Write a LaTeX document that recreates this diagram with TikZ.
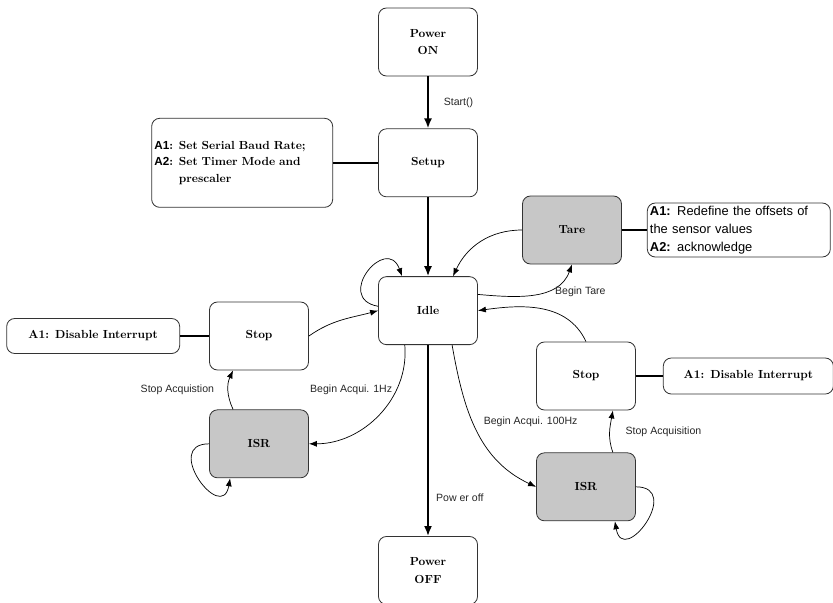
\documentclass[tikz,border=0pt]{standalone}
\usepackage{fontspec}
\setsansfont{Liberation Sans}
\usepackage{tikz}
\usetikzlibrary{positioning}
\usetikzlibrary{arrows.meta}
\usepackage{xcolor}

\begin{document}
\begin{tikzpicture}[
		% Style definitions
		state/.style={draw=black!80, line width=0.7pt, rounded corners=0.24cm, minimum width=2.97cm, minimum height=2.04cm, font=\bfseries\fontsize{10}{15}\selectfont, align=center, fill=white},
		busy/.style={state, fill=black!22},
		action/.style={draw=black!80, line width=0.7pt, rounded corners=0.24cm, inner sep=0.08cm, fill=white},
		lbl/.style={font=\sffamily\fontsize{9}{10}\selectfont, text=black!85},
		flow/.style={-{Latex[length=3mm, width=2.4mm]}, line width=1.6pt},
		arrow/.style={-{Latex[length=2.4mm, width=1.8mm]}, line width=0.6pt},
		link/.style={line width=1.6pt},
		]
		\useasboundingbox (0,0) rectangle (24.99,-18.06);

		% === Main column ===
		\node[state] (pon) at (12.84,-1.26) {Power\\ON};
		\node[state, below=1.56cm of pon] (setup) {Setup};
		\node[state, below=2.37cm of setup] (idle) {Idle};
		\node[state, below=5.73cm of idle] (poff) {Power\\OFF};

		% === Side states ===
		\node[busy] (tare) at (17.16,-6.90) {Tare};
		\node[state] (stopl) at (7.77,-10.08) {Stop};
		\node[busy, below=1.17cm of stopl] (isrl) {ISR};
		\node[state] (stopr) at (17.58,-11.28) {Stop};
		\node[busy, below=1.26cm of stopr] (isrr) {ISR};

		% === Actions ===
		\node[action, text width=5.27cm, minimum height=2.67cm, align=left, font=\bfseries\fontsize{10}{14}\selectfont, left=1.35cm of setup] (setupnote)
			{\textsf{A1}: Set Serial Baud Rate;\\ \textsf{A2}: Set Timer Mode and\\ \phantom{\textsf{A2}: }prescaler};
		\node[action, text width=5.33cm, minimum height=1.62cm, align=left, font=\sffamily\fontsize{11}{15.3}\selectfont, right=0.75cm of tare] (tarenote)
			{\textbf{A1:} Redefine the offsets of\\ the sensor values\\ \textbf{A2:} acknowledge};
		\node[action, minimum width=5.19cm, minimum height=1.05cm, font=\bfseries, left=0.87cm of stopl] (notel) {A1: Disable Interrupt};
		\node[action, minimum width=5.1cm, minimum height=1.08cm, font=\bfseries, right=0.81cm of stopr] (noter) {A1: Disable Interrupt};

		\draw[link] (setupnote) -- (setup);
		\draw[link] (tare) -- (tarenote);
		\draw[link] (notel) -- (stopl);
		\draw[link] (stopr) -- (noter);

		% === Main flow ===
		\draw[flow] (pon) -- node[lbl, right=0.33cm] {Start()} (setup);
		\draw[flow] (setup) -- (idle);
		\draw[flow] (idle) -- node[lbl, pos=0.8, right=0.1cm] {Pow er off} (poff);
		\draw[arrow] (idle.175) to[out=170, in=110, looseness=3] (idle.127);

		% === Tare ===
		\draw[arrow] (tare.west) to[out=180, in=65] (idle.54);
		\draw[arrow] (idle.18) to[out=-5, in=-110] node[lbl, pos=0.72, anchor=north west, inner sep=0pt] {Begin Tare} (tare.south);

		% === 1Hz branch ===
		\draw[arrow] (idle.236) to[out=-85, in=0] node[lbl, pos=0.3, left] {Begin Acqui. 1Hz} (isrl.east);
		\draw[arrow] (isrl.127) to[out=115, in=-115] node[lbl, left=0.3cm] {Stop Acquistion} (stopl.233);
		\draw[arrow] (isrl.west) to[out=180, in=-100, looseness=3] (isrl.230);
		\draw[arrow] (stopl.east) to[out=35, in=195] (idle.west);

		% === 100Hz branch ===
		\draw[arrow] (idle.305) to[out=-80, in=155] node[lbl, pos=0.45, right=0.2cm] {Begin Acqui. 100Hz} (isrr.west);
		\draw[arrow] (isrr.52) to[out=110, in=-100] node[lbl, right=0.35cm] {Stop Acquisition} (stopr.-52);
		\draw[arrow] (isrr.east) to[out=0, in=-80, looseness=3] (isrr.-50);
		\draw[arrow] (stopr.north) to[out=115, in=8] (idle.east);

	\end{tikzpicture}
\end{document}
